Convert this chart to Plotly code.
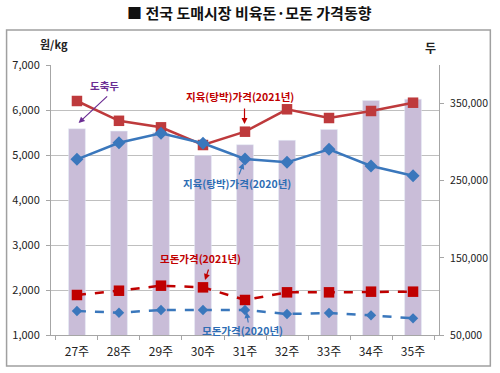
import plotly.graph_objects as go

weeks = ["27주", "28주", "29주", "30주", "31주", "32주", "33주", "34주", "35주"]
slaughter = [317400, 314300, 312600, 282900, 296700, 302300, 316500, 354000, 355700]
carcass_2021 = [6200, 5760, 5615, 5222, 5518, 6016, 5822, 5978, 6162]
carcass_2020 = [4904, 5273, 5482, 5260, 4911, 4837, 5127, 4756, 4540]
sow_2021 = [1889, 1984, 2096, 2059, 1778, 1948, 1948, 1963, 1963]
sow_2020 = [1533, 1496, 1556, 1556, 1556, 1467, 1489, 1437, 1370]

left_ticks = [1000, 2000, 3000, 4000, 5000, 6000, 7000]
right_ticks = [50000, 150000, 250000, 350000]

FONT = "Noto Sans CJK KR"
W, H = 500, 373
L, R, T, B = 49, 442, 65, 335

RED = "#BE3A3C"
RED2 = "#C00000"
BLUE = "#3A77BC"
PURPLE = "#6B2D93"
BAR = "#C9BDD8"
GRID = "#BFBFBF"


def px(x):
    return (x - L) / (R - L)


def py(y):
    return (B - y) / (B - T)


fig = go.Figure()
fig.add_trace(go.Bar(x=weeks, y=slaughter, marker_color=BAR, width=0.4,
                     yaxis="y", name="도축두"))
fig.add_trace(go.Scatter(x=weeks, y=carcass_2021, yaxis="y2", mode="lines+markers",
                         line=dict(color=RED, width=2.5),
                         marker=dict(symbol="square", size=10.5, color=RED)))
fig.add_trace(go.Scatter(x=weeks, y=carcass_2020, yaxis="y2", mode="lines+markers",
                         line=dict(color=BLUE, width=2.5),
                         marker=dict(symbol="diamond", size=10, color=BLUE)))
fig.add_trace(go.Scatter(x=weeks, y=sow_2021, yaxis="y2", mode="lines+markers",
                         line=dict(color=RED2, width=2.5, dash="dash"),
                         marker=dict(symbol="square", size=10.5, color=RED2)))
fig.add_trace(go.Scatter(x=weeks, y=sow_2020, yaxis="y2", mode="lines+markers",
                         line=dict(color=BLUE, width=2.5, dash="dash"),
                         marker=dict(symbol="diamond", size=8, color=BLUE)))

fig.update_layout(
    width=W, height=H,
    margin=dict(l=L, r=W - R, t=T, b=H - B),
    paper_bgcolor="white", plot_bgcolor="white",
    showlegend=False,
    font=dict(family=FONT, size=11, color="#333333"),
    xaxis=dict(showline=True, linecolor="#A6A6A6", linewidth=1,
               ticks="outside", tickson="boundaries", ticklen=4, tickcolor="#A6A6A6",
               ticklabelstandoff=6,
               tickfont=dict(size=12, color="#222222"), showgrid=False),
    yaxis=dict(side="right", range=[50000, 400000], tickvals=right_ticks,
               tickformat=",", showgrid=False, showline=True, linecolor="#A6A6A6",
               ticks="outside", ticklen=4, tickcolor="#A6A6A6", ticklabelstandoff=4,
               zeroline=False, tickfont=dict(size=10.5, color="#222222")),
    yaxis2=dict(side="left", overlaying="y", range=[1000, 7000], tickvals=left_ticks,
                tickformat=",", showgrid=True, gridcolor=GRID, gridwidth=1,
                showline=True, linecolor="#A6A6A6", ticks="outside", ticklen=4,
                tickcolor="#A6A6A6", ticklabelstandoff=4, zeroline=False,
                tickfont=dict(size=11, color="#222222")),
    bargap=0.6,
)

# outer frame
fig.add_shape(type="rect", xref="paper", yref="paper",
              x0=px(4), x1=px(494), y0=py(366), y1=py(30),
              line=dict(color="#A0A0A0", width=1.5), layer="below")

annos = [
    dict(text="<b>■ 전국 도매시장 비육돈·모돈 가격동향</b>", x=px(250), y=py(13),
         font=dict(size=15, color="#111111")),
    dict(text="<b>원/kg</b>", x=px(52), y=py(44), font=dict(size=11, color="#222222")),
    dict(text="<b>두</b>", x=px(433), y=py(47), font=dict(size=12, color="#222222")),
    dict(text="<b>도축두</b>", x=px(103), y=py(85), font=dict(size=10.5, color=PURPLE)),
    dict(text="<b>지육(탕박)가격(2021년)</b>", x=px(240), y=py(97), font=dict(size=10.5, color=RED2)),
    dict(text="<b>지육(탕박)가격(2020년)</b>", x=px(237), y=py(183), font=dict(size=10.5, color="#2E6DB4")),
    dict(text="<b>모돈가격(2021년)</b>", x=px(200), y=py(258), font=dict(size=10.5, color=RED2)),
    dict(text="<b>모돈가격(2020년)</b>", x=px(243), y=py(330), font=dict(size=10.5, color="#2E6DB4")),
]
for a in annos:
    fig.add_annotation(xref="paper", yref="paper", showarrow=False,
                       xanchor="center", yanchor="middle", **a)

arrows = [
    (px(77), py(123), 30, -28, PURPLE),
    (px(245), py(124), 0, -17, RED2),
    (px(244), py(163), -5, 13, BLUE),
    (px(205), py(280), 4, -12, RED2),
    (px(247), py(312), 2, 12, BLUE),
]
for x, y, ax, ay, c in arrows:
    fig.add_annotation(xref="paper", yref="paper", x=x, y=y, ax=ax, ay=ay,
                       showarrow=True, arrowhead=2, arrowsize=1, arrowwidth=1.2,
                       arrowcolor=c, text="")

fig.write_html("out.html", config={"displayModeBar": False},
               post_script="document.body.style.margin='0';document.body.style.padding='0';")
